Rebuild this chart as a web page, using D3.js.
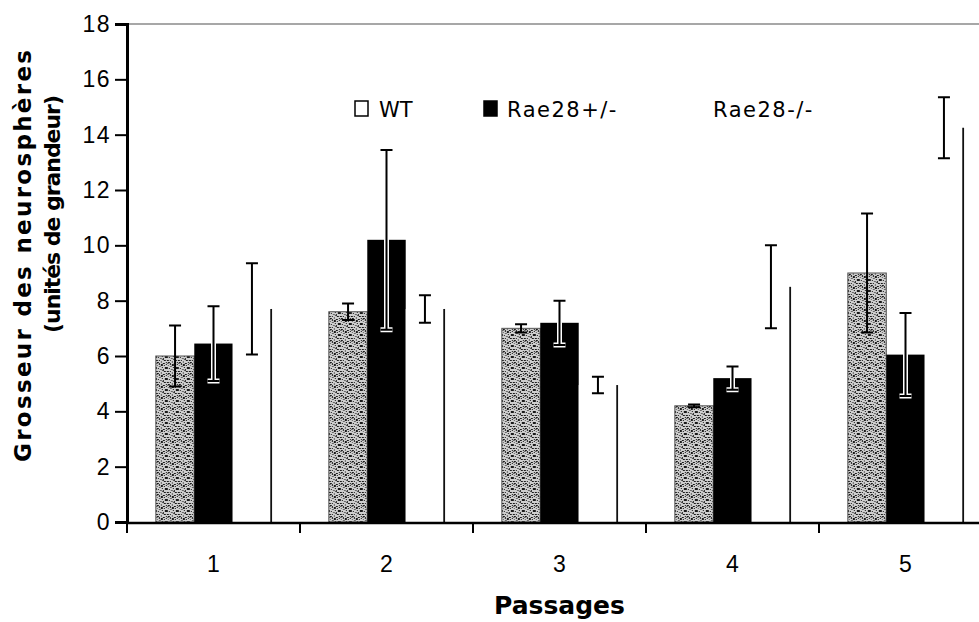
<!DOCTYPE html>
<html>
<head>
<meta charset="utf-8">
<script src="https://cdn.jsdelivr.net/npm/d3@7/dist/d3.min.js"></script>
<style>
  html, body { margin: 0; padding: 0; background: #fff; }
  svg { display: block; font-family: "DejaVu Sans", Verdana, sans-serif; }
</style>
</head>
<body>
<script>
// données
const passages = ['1', '2', '3', '4', '5'];
const series = ['WT', 'Rae28+/-', 'Rae28-/-'];
const wtValues = [6.0, 7.6, 7.0, 4.2, 9.0];
const wtErrors = [1.1, 0.3, 0.15, 0.05, 2.15];
const hetValues = [6.45, 10.2, 7.2, 5.2, 6.05];
const hetErrors = [1.35, 3.25, 0.8, 0.42, 1.5];
const koValues = [7.7, 7.7, 4.95, 8.5, 14.25];
const koErrors = [1.65, 0.5, 0.3, 1.5, 1.1];
const yTicks = [0, 2, 4, 6, 8, 10, 12, 14, 16, 18];
const yTitle = ['Grosseur des neurosphères', '(unités de grandeur)'];
const xTitle = 'Passages';

const width = 979;
const height = 622;
const plot = { left: 127, right: 992, top: 24, bottom: 522 };

const rows = [];
passages.forEach((p, i) => {
    rows.push({ passage: p, serie: series[0], value: wtValues[i], err: wtErrors[i] });
    rows.push({ passage: p, serie: series[1], value: hetValues[i], err: hetErrors[i] });
    rows.push({ passage: p, serie: series[2], value: koValues[i], err: koErrors[i] });
});

const svg = d3.select('body').append('svg')
    .attr('width', width)
    .attr('height', height);

// texture pointillée des barres WT (motif fixe)
const defs = svg.append('defs');
const pat = defs.append('pattern')
    .attr('id', 'stipple')
    .attr('patternUnits', 'userSpaceOnUse')
    .attr('width', 11).attr('height', 11);
pat.append('rect').attr('width', 11).attr('height', 11).attr('fill', '#cfcfcf');
const dots = [
    [0,0,2,1],[3,0,1,2],[7,0,2,1],[10,1,1,1],[1,2,1,1],[5,1,2,2],[8,2,1,1],
    [0,4,1,2],[3,3,2,1],[6,4,1,1],[9,4,2,2],[2,5,1,1],[4,6,2,1],[7,6,1,2],
    [0,8,2,1],[3,8,1,1],[5,9,1,2],[8,8,2,1],[10,10,1,1],[1,10,2,1],[6,7,1,1]
];
pat.selectAll('rect.d').data(dots).enter()
    .append('rect')
    .attr('x', d => d[0]).attr('y', d => d[1])
    .attr('width', d => d[2]).attr('height', d => d[3])
    .attr('fill', (d, i) => i % 4 === 0 ? '#666' : '#1a1a1a');

const x = d3.scaleBand()
    .domain(passages)
    .range([plot.left, plot.right])
    .paddingInner(1 / 3)
    .paddingOuter(1 / 6);

const x1 = d3.scaleBand()
    .domain(series)
    .range([0, x.bandwidth()]);

const y = d3.scaleLinear()
    .domain([0, 18])
    .range([plot.bottom, plot.top]);

// bordure du haut
svg.append('line')
    .attr('x1', plot.left).attr('x2', width)
    .attr('y1', y(18)).attr('y2', y(18))
    .attr('stroke', '#8a8a8a')
    .attr('stroke-width', 1.5);

const g = svg.append('g');

const bars = g.selectAll('g.bar').data(rows).enter()
    .append('g')
    .attr('transform', d => `translate(${x(d.passage) + x1(d.serie)},0)`);

bars.append('rect')
    .attr('y', d => y(d.value))
    .attr('width', x1.bandwidth())
    .attr('height', d => y(0) - y(d.value))
    .attr('fill', d => d.serie === 'WT' ? 'url(#stipple)' : d.serie === 'Rae28+/-' ? '#000' : '#fff')
    .attr('stroke', d => d.serie === 'WT' ? '#555' : 'none')
    .attr('stroke-width', 1);

// Rae28-/- : seul le bord droit est visible
bars.filter(d => d.serie === 'Rae28-/-')
    .append('line')
    .attr('x1', x1.bandwidth()).attr('x2', x1.bandwidth())
    .attr('y1', d => y(d.value)).attr('y2', y(0))
    .attr('stroke', '#111')
    .attr('stroke-width', 1.8);

// barres d'erreur
const cap = 6;
const errPath = d => {
    const c = x1.bandwidth() / 2;
    const hi = y(d.value + d.err), lo = y(d.value - d.err);
    return `M${c},${hi}L${c},${lo}M${c - cap},${hi}L${c + cap},${hi}M${c - cap},${lo}L${c + cap},${lo}`;
};

bars.filter(d => d.serie === 'Rae28+/-')
    .append('path')
    .attr('d', errPath)
    .attr('fill', 'none')
    .attr('stroke', '#fff')
    .attr('stroke-width', 5);

bars.append('path')
    .attr('d', errPath)
    .attr('fill', 'none')
    .attr('stroke', '#000')
    .attr('stroke-width', 2);

// axe Y
const yAxis = svg.append('g')
    .attr('transform', `translate(${plot.left},0)`)
    .call(d3.axisLeft(y).tickValues(yTicks).tickSize(12).tickPadding(4));
yAxis.select('.domain').attr('stroke-width', 3);
yAxis.selectAll('.tick line').attr('stroke-width', 2);
yAxis.selectAll('text')
    .style('font-size', '23px')
    .attr('letter-spacing', 1.5)
    .attr('fill', '#000');

// axe X : libellés au centre, traits aux limites des groupes
const xAxis = svg.append('g')
    .attr('transform', `translate(0,${plot.bottom + 1})`)
    .call(d3.axisBottom(x).tickSize(0).tickPadding(33));
xAxis.select('.domain').remove();
xAxis.selectAll('text')
    .style('font-size', '23px')
    .attr('fill', '#000');

const bounds = passages.map(p => x(p) - x.step() * x.paddingInner() / 2);
svg.append('g').selectAll('line').data(bounds).enter()
    .append('line')
    .attr('x1', d => d).attr('x2', d => d)
    .attr('y1', plot.bottom).attr('y2', plot.bottom + 11)
    .attr('stroke', '#000')
    .attr('stroke-width', 2);

svg.append('line')
    .attr('x1', plot.left).attr('x2', width)
    .attr('y1', plot.bottom + 1).attr('y2', plot.bottom + 1)
    .attr('stroke', '#000')
    .attr('stroke-width', 2.5);

// titres
svg.append('text')
    .attr('x', (plot.left + plot.right) / 2)
    .attr('y', 614)
    .attr('text-anchor', 'middle')
    .style('font-size', '25px')
    .attr('font-weight', 'bold')
    .text(xTitle);

svg.append('text')
    .attr('transform', 'translate(31,256) rotate(-90)')
    .attr('text-anchor', 'middle')
    .style('font-size', '23px')
    .attr('font-weight', 'bold')
    .attr('textLength', 412)
    .text(yTitle[0]);

svg.append('text')
    .attr('transform', 'translate(60,214) rotate(-90)')
    .attr('text-anchor', 'middle')
    .style('font-size', '22px')
    .attr('font-weight', 'bold')
    .attr('textLength', 238)
    .text(yTitle[1]);

// légende
const legendX = [355, 484, 690];
const legend = svg.append('g').selectAll('g').data(series).enter()
    .append('g')
    .attr('transform', (d, i) => `translate(${legendX[i]},101)`);

legend.append('rect')
    .attr('width', 13).attr('height', 15)
    .attr('fill', (d, i) => i === 1 ? '#000' : '#fff')
    .attr('stroke', (d, i) => i === 2 ? 'none' : '#000')
    .attr('stroke-width', 1.5);

legend.append('text')
    .attr('x', (d, i) => i === 0 ? 24 : 23)
    .attr('y', 16)
    .style('font-size', '21px')
    .attr('letter-spacing', (d, i) => i === 0 ? 0 : 1.5)
    .text(d => d);
</script>
</body>
</html>
